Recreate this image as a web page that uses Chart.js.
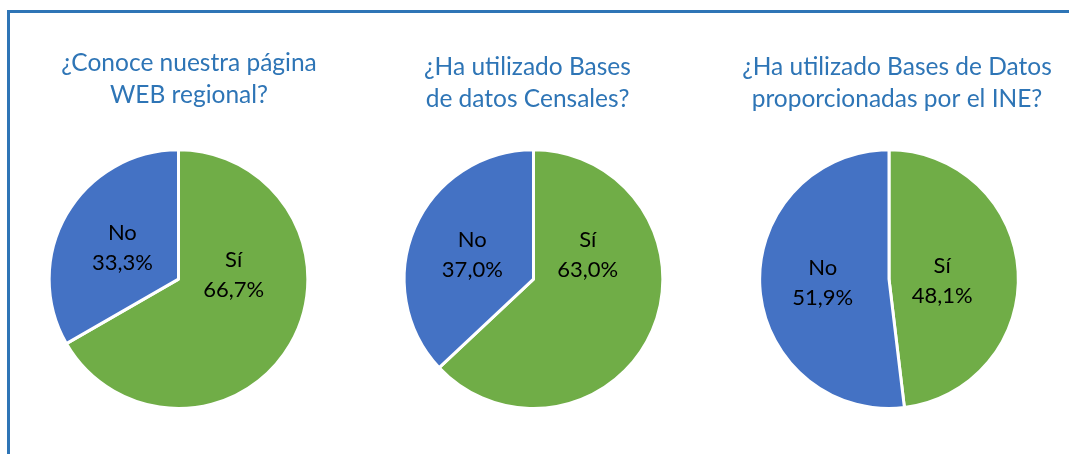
<!DOCTYPE html>
<html>
<head>
<meta charset="utf-8">
<script src="https://cdn.jsdelivr.net/npm/chart.js@4"></script>
<style>
  body { margin: 0; background: #fff; width: 1069px; height: 454px; position: relative; overflow: hidden; }
  #frame { position: absolute; left: 7px; top: 10px; right: 0; bottom: 0;
           border-top: 3px solid #2E75B6; border-left: 3px solid #2E75B6; }
  canvas { position: absolute; top: 30px; }
</style>
</head>
<body>
<div id="frame"></div>
<canvas id="web" width="341" height="382" style="left:8px"></canvas>
<canvas id="censales" width="341" height="382" style="left:363px"></canvas>
<canvas id="ine" width="340" height="382" style="left:719px"></canvas>
<script>
const categories = ['Sí', 'No'];
const webValues = [66.7, 33.3];
const censalesValues = [63.0, 37.0];
const ineValues = [48.1, 51.9];
const titleWeb = ['¿Conoce nuestra página', 'WEB regional?'];
const titleCensales = ['¿Ha utilizado Bases', 'de datos Censales?'];
const titleIne = ['¿Ha utilizado Bases de Datos', 'proporcionadas por el INE?'];

const colors = ['#70AD47', '#4472C4'];
const fontFamily = 'Lato, "Open Sans", sans-serif';

// moves the title sideways, Excel places it apart from the pie
const titleShift = {
  id: 'titleShift',
  afterLayout(chart, args, opts) {
    const t = chart.titleBlock;
    if (t && opts.dx) { t.left += opts.dx; t.right += opts.dx; }
  }
};

// labels "Sí / 66,7%" inside the slices
const sliceLabels = {
  id: 'sliceLabels',
  afterDatasetsDraw(chart, args, opts) {
    const ctx = chart.ctx;
    const meta = chart.getDatasetMeta(0);
    const values = chart.data.datasets[0].data;
    ctx.save();
    ctx.font = '22px ' + fontFamily;
    ctx.fillStyle = '#000';
    ctx.textAlign = 'center';
    ctx.textBaseline = 'middle';
    meta.data.forEach((arc, i) => {
      const r = arc.outerRadius;
      const [fx, fy] = opts.pos[i];
      const x = arc.x + fx * r;
      const y = arc.y + fy * r;
      const pct = values[i].toFixed(1).replace('.', ',') + '%';
      ctx.fillText(chart.data.labels[i], x, y - 15);
      ctx.fillText(pct, x, y + 15);
    });
    ctx.restore();
  }
};

function makePie(id, values, title, padTop, padBottom, dx, pos) {
  new Chart(document.getElementById(id), {
    type: 'pie',
    data: {
      labels: categories,
      datasets: [{
        data: values,
        backgroundColor: colors,
        borderColor: '#fff',
        borderWidth: 3
      }]
    },
    options: {
      responsive: false,
      animation: false,
      layout: { padding: { bottom: 2 } },
      plugins: {
        legend: { display: false },
        tooltip: { enabled: false },
        title: {
          display: true,
          text: title,
          color: '#2E75B6',
          font: { family: fontFamily, size: 24.5, weight: 'normal', lineHeight: 1.3 },
          padding: { top: padTop, bottom: padBottom }
        },
        titleShift: { dx },
        sliceLabels: { pos }
      }
    },
    plugins: [titleShift, sliceLabels]
  });
}

makePie('web', webValues, titleWeb, 17, 37.6, 10.5, [[0.426, -0.031], [-0.434, -0.240]]);
makePie('censales', censalesValues, titleCensales, 21.5, 33.1, -6, [[0.419, -0.186], [-0.473, -0.186]]);
makePie('ine', ineValues, titleIne, 21.5, 33.1, 8, [[0.411, 0.016], [-0.512, 0.031]]);
</script>
</body>
</html>
